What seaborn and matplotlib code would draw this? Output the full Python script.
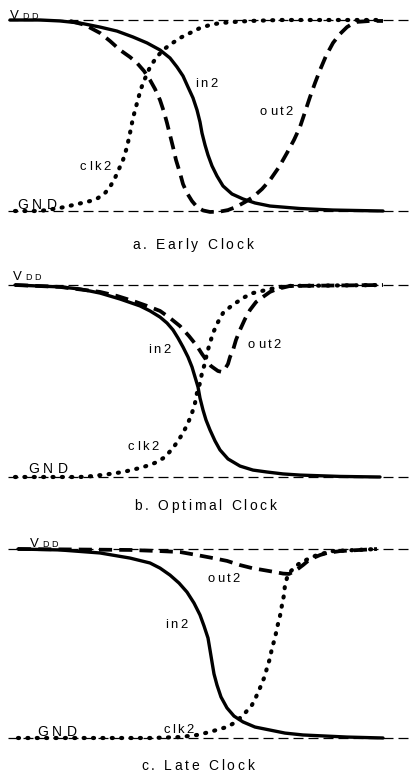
import numpy as np
import pandas as pd
import matplotlib
matplotlib.use("Agg")
import matplotlib.pyplot as plt
import seaborn as sns
from matplotlib import font_manager, ft2font

# ---------------------------------------------------------------
# Waveforms: time (a.u.) and normalised voltage (0 = GND, 1 = VDD)
# ---------------------------------------------------------------
# a. Early clock
A_IN2_T = [10, 40, 60, 80, 100, 117, 133, 147, 160, 170, 177, 183, 188, 193, 197, 200, 202, 205,
           208, 212, 217, 223, 232, 243, 255, 270, 300, 333, 383]
A_IN2_V = [1.0, 1.0, 0.995, 0.984, 0.963, 0.942, 0.911, 0.880, 0.843, 0.801, 0.754, 0.707, 0.649,
           0.592, 0.529, 0.466, 0.408, 0.346, 0.293, 0.236, 0.183, 0.131, 0.089, 0.063, 0.042,
           0.026, 0.013, 0.005, 0.0]
A_OUT2_T = [70, 85, 100, 110, 120, 130, 137, 144, 150, 155, 160, 164, 167, 170, 173, 176, 180,
            183, 187, 192, 197, 203, 210, 220, 228, 236, 245, 253, 262, 270, 279, 287, 294, 300,
            305, 310, 315, 320, 326, 333, 340, 347, 352, 357, 370, 383]
A_OUT2_V = [0.995, 0.974, 0.932, 0.890, 0.843, 0.806, 0.775, 0.733, 0.686, 0.639, 0.581, 0.518,
            0.461, 0.398, 0.335, 0.267, 0.199, 0.141, 0.094, 0.052, 0.021, 0.003, -0.005, -0.003,
            0.005, 0.021, 0.047, 0.073, 0.115, 0.162, 0.230, 0.304, 0.372, 0.440, 0.518, 0.597,
            0.670, 0.738, 0.812, 0.880, 0.927, 0.963, 0.979, 0.990, 0.995, 0.995]
A_CLK2_T = [15, 40, 60, 73, 82, 90, 98, 105, 110, 115, 119, 123, 127, 130, 133, 137, 140, 143,
            147, 150, 156, 163, 171, 180, 190, 200, 210, 220, 235, 250, 280, 383]
A_CLK2_V = [0.0, 0.0, 0.016, 0.031, 0.042, 0.052, 0.068, 0.094, 0.126, 0.173, 0.220, 0.267,
            0.335, 0.408, 0.487, 0.565, 0.623, 0.670, 0.717, 0.754, 0.801, 0.843, 0.874, 0.906,
            0.932, 0.958, 0.974, 0.984, 0.990, 0.995, 1.0, 1.0]

# b. Optimal clock
B_IN2_T = [15, 60, 80, 100, 120, 140, 150, 160, 167, 173, 178, 183, 188, 192, 195, 198, 200, 203,
           206, 210, 215, 220, 228, 240, 253, 267, 283, 300, 340, 380]
B_IN2_V = [1.0, 0.990, 0.979, 0.958, 0.927, 0.891, 0.865, 0.833, 0.802, 0.766, 0.724, 0.677,
           0.625, 0.573, 0.521, 0.469, 0.411, 0.349, 0.297, 0.245, 0.188, 0.141, 0.094, 0.057,
           0.036, 0.026, 0.016, 0.010, 0.003, 0.0]
B_OUT2_T = [15, 60, 100, 117, 133, 147, 160, 170, 180, 189, 197, 202, 207, 211, 215, 218, 222,
            225, 228, 230, 233, 236, 240, 245, 250, 256, 263, 270, 277, 290, 383]
B_OUT2_V = [1.0, 0.990, 0.964, 0.943, 0.917, 0.891, 0.865, 0.828, 0.786, 0.734, 0.682, 0.641,
            0.604, 0.578, 0.563, 0.552, 0.547, 0.563, 0.589, 0.625, 0.661, 0.714, 0.766, 0.823,
            0.870, 0.911, 0.938, 0.964, 0.979, 0.995, 1.0]
B_CLK2_T = [15, 80, 93, 110, 123, 140, 150, 157, 165, 173, 178, 183, 188, 192, 195, 197, 200,
            202, 205, 207, 210, 213, 218, 223, 230, 237, 245, 253, 262, 270, 287, 383]
B_CLK2_V = [0.0, 0.0, 0.005, 0.016, 0.026, 0.047, 0.063, 0.078, 0.104, 0.151, 0.188, 0.229,
            0.281, 0.333, 0.385, 0.438, 0.490, 0.542, 0.594, 0.646, 0.698, 0.750, 0.807, 0.854,
            0.885, 0.911, 0.938, 0.958, 0.969, 0.979, 0.995, 1.0]

# c. Late clock
C_IN2_T = [18, 60, 100, 130, 150, 160, 170, 179, 187, 194, 200, 204, 208, 210, 212, 214, 217,
           221, 227, 234, 243, 255, 270, 285, 303, 347, 383]
C_IN2_V = [1.0, 0.995, 0.979, 0.952, 0.926, 0.899, 0.862, 0.820, 0.772, 0.714, 0.651, 0.593,
           0.529, 0.466, 0.402, 0.339, 0.280, 0.217, 0.159, 0.116, 0.085, 0.058, 0.042, 0.026,
           0.016, 0.005, 0.0]
C_OUT2_T = [18, 130, 160, 180, 197, 213, 227, 240, 252, 263, 275, 283, 289, 295, 299, 303, 308,
            313, 320, 327, 340, 377]
C_OUT2_V = [1.0, 0.995, 0.989, 0.984, 0.968, 0.952, 0.937, 0.915, 0.899, 0.889, 0.878, 0.870,
            0.868, 0.884, 0.899, 0.915, 0.937, 0.952, 0.968, 0.979, 0.989, 1.0]
C_CLK2_T = [18, 150, 180, 197, 210, 220, 227, 234, 240, 246, 252, 256, 260, 264, 267, 270, 272,
            275, 277, 280, 282, 284, 285, 287, 290, 295, 300, 308, 317, 325, 333, 377]
C_CLK2_V = [0.0, 0.0, 0.005, 0.016, 0.032, 0.048, 0.058, 0.079, 0.106, 0.138, 0.175, 0.217,
            0.265, 0.317, 0.370, 0.423, 0.476, 0.529, 0.582, 0.646, 0.704, 0.757, 0.810, 0.847,
            0.878, 0.905, 0.926, 0.947, 0.968, 0.979, 0.989, 1.0]

CAPTIONS = ["a. Early Clock", "b. Optimal Clock", "c. Late Clock"]
SIGNALS = ["in2", "out2", "clk2"]

# ---------------------------------------------------------------
W, H, DPI = 417, 775, 100
FAMILY = "Liberation Sans"

sns.set_theme(style="white")
plt.rcParams["font.family"] = [FAMILY, "DejaVu Sans"]

fig = plt.figure(figsize=(W / DPI, H / DPI), dpi=DPI)
fig.patch.set_facecolor("white")

_font_path = font_manager.findfont(font_manager.FontProperties(family=FAMILY))


def tracked_text(x_px, y_px, s, size, track):
    """Draw a string glyph by glyph with extra letter spacing (pixels)."""
    font = ft2font.FT2Font(_font_path)
    font.set_size(size, DPI)
    x = x_px
    for ch in s:
        fig.text(x / W, 1 - y_px / H, ch, fontsize=size, ha="left", va="baseline",
                 color="black")
        glyph = font.load_char(ord(ch))
        x += glyph.linearHoriAdvance / 65536 + track


SOLID = dict(linestyle="-", linewidth=2.4, solid_capstyle="round", solid_joinstyle="round")
DASHED = dict(linestyle=(0, (3.5, 1.9)), linewidth=2.7)
DOTTED = dict(linestyle=(0, (0.25, 2.0)), linewidth=3.0, dash_capstyle="round")
REF = dict(color="black", linewidth=0.9, linestyle=(0, (8, 4)))

panels = [
    dict(vdd=20, gnd=211,
         curves=[(A_IN2_T, A_IN2_V, SOLID), (A_OUT2_T, A_OUT2_V, DASHED), (A_CLK2_T, A_CLK2_V, DOTTED)],
         labels=[(195, 87), (260, 115), (80, 170)],
         vlab=(10, 19), glab=(17, 209), cap=(132, 249)),
    dict(vdd=285, gnd=477,
         curves=[(B_IN2_T, B_IN2_V, SOLID), (B_OUT2_T, B_OUT2_V, DASHED), (B_CLK2_T, B_CLK2_V, DOTTED)],
         labels=[(148, 353), (248, 348), (128, 450)],
         vlab=(13, 280), glab=(28, 473), cap=(134, 510)),
    dict(vdd=549, gnd=738,
         curves=[(C_IN2_T, C_IN2_V, SOLID), (C_OUT2_T, C_OUT2_V, DASHED), (C_CLK2_T, C_CLK2_V, DOTTED)],
         labels=[(165, 628), (207, 582), (163, 733)],
         vlab=(30, 547), glab=(37, 736), cap=(141, 770)),
]

for p, caption in zip(panels, CAPTIONS):
    span = p["gnd"] - p["vdd"]
    top = p["vdd"] - 0.1 * span
    bottom = p["gnd"] + 0.1 * span
    ax = fig.add_axes([0, 1 - bottom / H, 1, (bottom - top) / H])
    ax.set_xlim(0, W)
    ax.set_ylim(-0.1, 1.1)
    ax.set_axis_off()

    # supply rails
    ax.hlines([0, 1], 8, 412, zorder=1, **REF)

    for (t, v, style), name in zip(p["curves"], SIGNALS):
        df = pd.DataFrame({"time": t, "voltage": v})
        sns.lineplot(data=df, x="time", y="voltage", ax=ax, color="black",
                     estimator=None, sort=False, legend=False, zorder=3,
                     clip_on=False, **style)

    for (lx, ly), name in zip(p["labels"], SIGNALS):
        tracked_text(lx, ly, name, 9.4, 2.6)

    vx, vy = p["vlab"]
    tracked_text(vx, vy, "V", 9.5, 0)
    tracked_text(vx + 12, vy, "DD", 6.5, 2.5)
    gx, gy = p["glab"]
    tracked_text(gx, gy, "GND", 10.0, 4.5)
    cx, cy = p["cap"]
    tracked_text(cx, cy, caption, 10.0, 2.7)

fig.savefig("out.png", dpi=DPI, facecolor="white")
